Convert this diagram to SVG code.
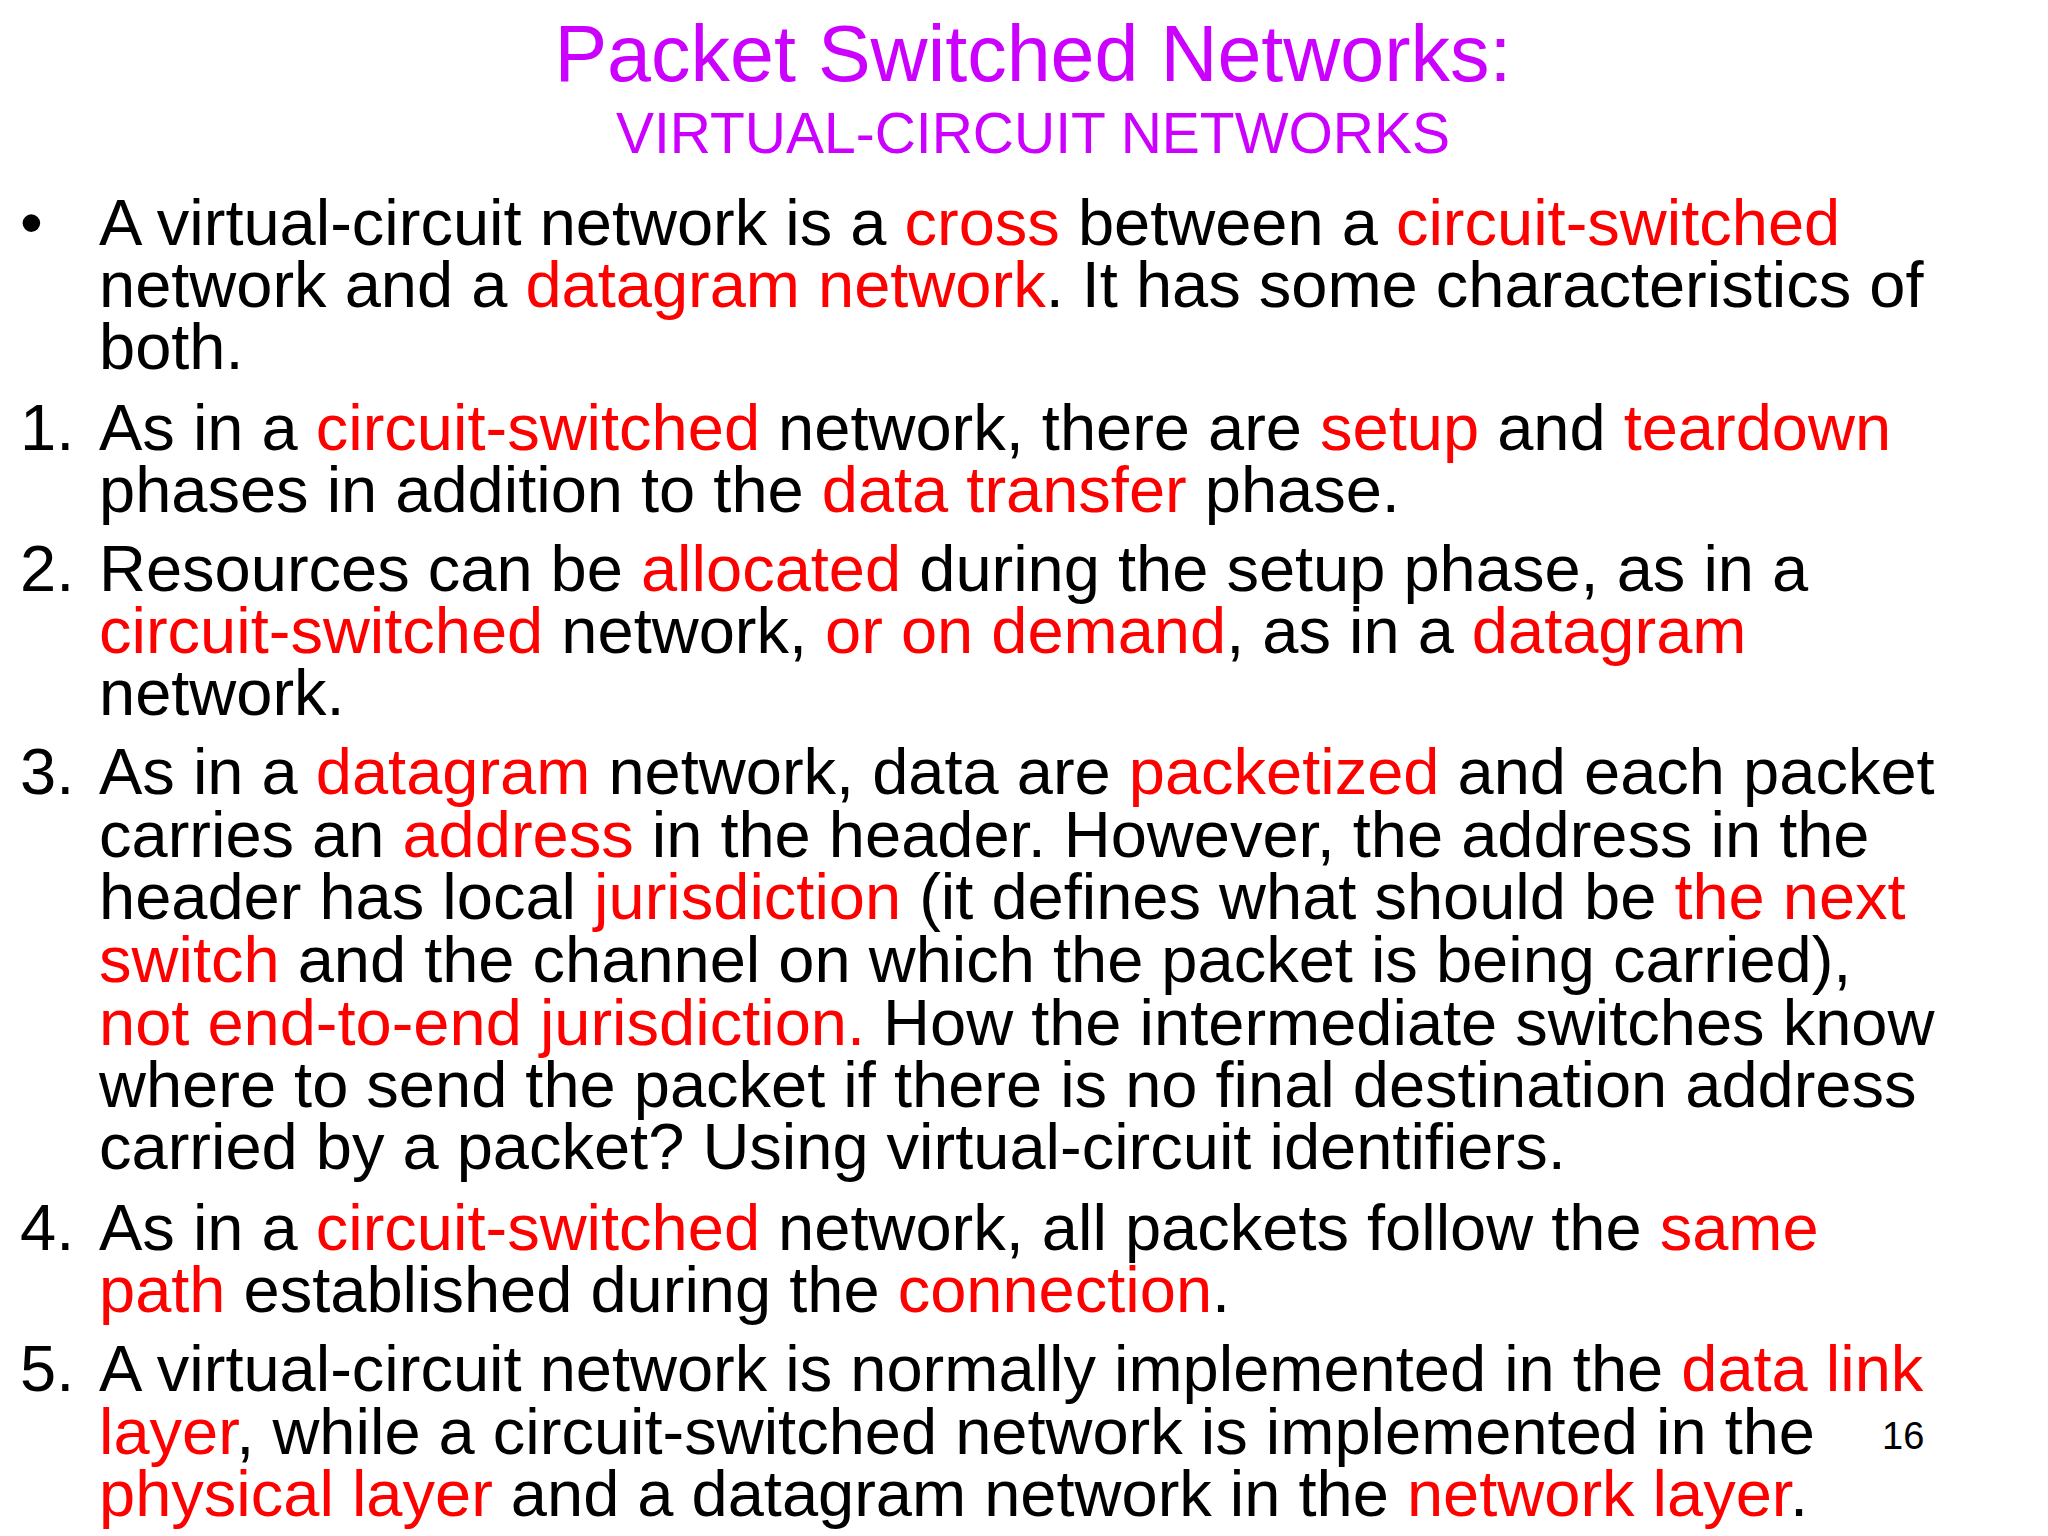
<svg xmlns="http://www.w3.org/2000/svg" width="2048" height="1536" viewBox="0 0 2048 1536">
<style>
text{font-family:"Liberation Sans",Arial,sans-serif;fill:#000}
.b{font-size:65px}
.r{fill:#FF0000}
.t{fill:#CC00FF;text-anchor:middle}
</style>
<rect width="2048" height="1536" fill="#fff"/>
<g id="title">
<text class="t" x="1033" y="81" font-size="79">Packet Switched Networks:</text>
<text class="t" x="1033" y="153" font-size="57">VIRTUAL-CIRCUIT NETWORKS</text>
</g>
<g id="body" class="b">
<text x="20" y="245" class="b">•</text>
<text x="99" y="245" class="b">A virtual-circuit network is a <tspan class="r">cross</tspan> between a <tspan class="r">circuit-switched</tspan></text>
<text x="99" y="307" class="b">network and a <tspan class="r">datagram network</tspan>. It has some characteristics of</text>
<text x="99" y="369" class="b">both.</text>
<text x="20" y="450" class="b">1.</text>
<text x="99" y="450" class="b">As in a <tspan class="r">circuit-switched</tspan> network, there are <tspan class="r">setup</tspan> and <tspan class="r">teardown</tspan></text>
<text x="99" y="512" class="b">phases in addition to the <tspan class="r">data transfer</tspan> phase.</text>
<text x="20" y="591" class="b">2.</text>
<text x="99" y="591" class="b">Resources can be <tspan class="r">allocated</tspan> during the setup phase, as in a</text>
<text x="99" y="653" class="b"><tspan class="r">circuit-switched</tspan> network, <tspan class="r">or on demand</tspan>, as in a <tspan class="r">datagram</tspan></text>
<text x="99" y="715" class="b">network.</text>
<text x="20" y="794" class="b">3.</text>
<text x="99" y="794" class="b">As in a <tspan class="r">datagram</tspan> network, data are <tspan class="r">packetized</tspan> and each packet</text>
<text x="99" y="857" class="b">carries an <tspan class="r">address</tspan> in the header. However, the address in the</text>
<text x="99" y="919" class="b">header has local <tspan class="r">jurisdiction</tspan> (it defines what should be <tspan class="r">the next</tspan></text>
<text x="99" y="982" class="b"><tspan class="r">switch</tspan> and the channel on which the packet is being carried),</text>
<text x="99" y="1045" class="b"><tspan class="r">not end-to-end jurisdiction.</tspan> How the intermediate switches know</text>
<text x="99" y="1107" class="b">where to send the packet if there is no final destination address</text>
<text x="99" y="1169" class="b">carried by a packet? Using virtual-circuit identifiers.</text>
<text x="20" y="1250" class="b">4.</text>
<text x="99" y="1250" class="b">As in a <tspan class="r">circuit-switched</tspan> network, all packets follow the <tspan class="r">same</tspan></text>
<text x="99" y="1312" class="b"><tspan class="r">path</tspan> established during the <tspan class="r">connection</tspan>.</text>
<text x="20" y="1391" class="b">5.</text>
<text x="99" y="1391" class="b">A virtual-circuit network is normally implemented in the <tspan class="r">data link</tspan></text>
<text x="99" y="1454" class="b"><tspan class="r">layer</tspan>, while a circuit-switched network is implemented in the</text>
<text x="99" y="1516" class="b"><tspan class="r">physical layer</tspan> and a datagram network in the <tspan class="r">network layer</tspan>.</text>
</g>
<text id="page" x="1882" y="1449" font-size="38">16</text>
</svg>
